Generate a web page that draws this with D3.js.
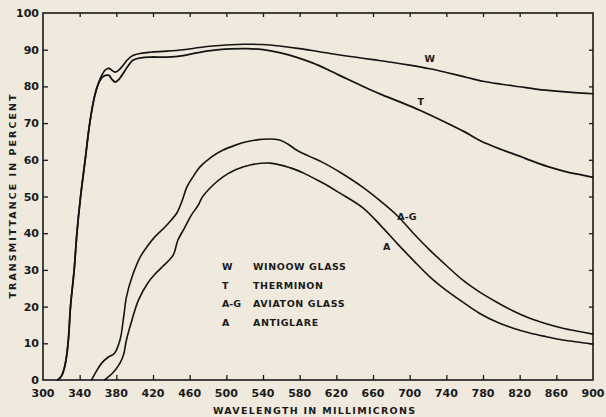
<!DOCTYPE html>
<html>
<head>
<meta charset="utf-8">
<script src="https://cdn.jsdelivr.net/npm/d3@7"></script>
<style>
  body { margin: 0; background: #efeadd; }
  svg { display: block; }
  .tick-label { font-family: "DejaVu Sans", sans-serif; font-weight: bold; font-size: 11px; fill: #1a1a1a; }
  .axis-title { font-family: "DejaVu Sans", sans-serif; font-weight: bold; font-size: 9.5px; fill: #1a1a1a; }
  .note { font-family: "DejaVu Sans", sans-serif; font-weight: bold; font-size: 9.5px; fill: #1a1a1a; }
  .curve { fill: none; stroke: #141414; stroke-linejoin: round; stroke-linecap: round; }
</style>
</head>
<body>
<svg width="606" height="417"></svg>
<script>
// wavelength (millimicrons), transmittance (%)
const windowGlass = [
  [316, 0], [320, 1], [323, 3], [326, 7], [328, 12], [330, 20], [334, 30], [337, 40],
  [341, 50], [346, 60], [351, 70], [356, 77], [360, 80.5], [364, 83], [368, 84.5],
  [372, 84.9], [375, 84.4], [378.5, 83.9], [382, 84.3], [387, 85.6], [392, 87.2],
  [398, 88.4], [407, 89], [417, 89.3], [435, 89.6], [453, 90], [471, 90.6], [485, 91],
  [500, 91.3], [520, 91.5], [540, 91.4], [558, 91], [580, 90.3], [600, 89.5],
  [620, 88.7], [640, 88], [660, 87.3], [680, 86.6], [700, 85.8], [722, 84.8],
  [740, 83.8], [760, 82.6], [780, 81.4], [800, 80.6], [820, 79.9], [840, 79.2],
  [860, 78.7], [880, 78.3], [900, 78]
];
const therminon = [
  [316, 0], [320, 1], [323, 3], [326, 7], [328, 12], [330, 20], [334, 30], [337, 40],
  [341, 50], [346, 60], [351, 70], [356, 77], [360, 80.5], [364, 82.3], [368, 83],
  [372, 83], [375, 82], [378.5, 81.2], [382, 81.7], [386, 83], [392, 85.3],
  [398, 87.1], [407, 87.8], [417, 88], [435, 88], [453, 88.4], [471, 89.3],
  [485, 89.8], [504, 90.2], [522, 90.3], [540, 90], [558, 89.2], [576, 88],
  [594, 86.4], [612, 84.4], [632, 82], [650, 79.9], [668, 77.9], [690, 75.7],
  [711, 73.5], [740, 70.1], [760, 67.6], [777, 65.2], [800, 62.8], [820, 61],
  [831, 59.9], [850, 58.2], [870, 56.8], [885, 56], [900, 55.2]
];
const aviatonGlass = [
  [353, 0], [358, 2.3], [364, 4.6], [371, 6.2], [378, 7.3], [384, 10.9], [388, 17.2],
  [391, 22.6], [397, 28], [406, 33.5], [414, 36.5], [422, 39], [432, 41.4],
  [440, 43.6], [446, 45.5], [452, 49], [457, 52.6], [464, 55.5], [471, 58],
  [484, 60.8], [496, 62.6], [510, 64], [522, 64.9], [540, 65.6], [558, 65.4],
  [567, 64.3], [577, 62.6], [590, 61], [605, 59.3], [624, 56.6], [649, 52.5],
  [668, 48.8], [686, 44.9], [704, 40], [722, 35.4], [740, 31.2], [758, 27.2],
  [776, 24], [795, 21.2], [813, 18.8], [831, 16.8], [849, 15.3], [867, 14.1],
  [885, 13.2], [900, 12.5]
];
const antiglare = [
  [367, 0], [371, 0.8], [376, 1.9], [384, 4.6], [388, 7], [391, 10.9], [397, 16.3],
  [404, 21.7], [414, 26.3], [422, 28.8], [430, 30.8], [442, 34], [447, 38],
  [455, 41.7], [462, 45], [469, 47.5], [474, 49.9], [485, 53], [496, 55.3],
  [510, 57.3], [526, 58.6], [548, 59.1], [570, 57.8], [585, 56.3], [599, 54.5],
  [613, 52.6], [624, 50.9], [649, 46.9], [668, 42.2], [686, 37.3], [704, 32.6],
  [722, 28.1], [740, 24.4], [758, 21.2], [776, 18.2], [795, 15.8], [813, 14.1],
  [831, 12.8], [849, 11.8], [867, 10.9], [885, 10.3], [900, 9.8]
];

const xTicks = d3.range(300, 901, 40);
const yTicks = d3.range(0, 101, 10);
const legendCodes = ["W", "T", "A-G", "A"];
const legendNames = ["WINOOW GLASS", "THERMINON", "AVIATON GLASS", "ANTIGLARE"];

const svg = d3.select("svg");
const plotLeft = 43, plotRight = 593, plotTop = 13, plotBottom = 380;

const x = d3.scaleLinear().domain([300, 900]).range([plotLeft, plotRight]);
const y = d3.scaleLinear().domain([0, 100]).range([plotBottom, plotTop]);

// Frame
svg.append("rect")
  .attr("x", plotLeft).attr("y", plotTop)
  .attr("width", plotRight - plotLeft).attr("height", plotBottom - plotTop)
  .attr("fill", "none").attr("stroke", "#1a1a1a").attr("stroke-width", 1.6);

const inner = (t, lo, hi) => t > lo && t < hi;
const styleTicks = (g) => {
  g.select(".domain").remove();
  g.selectAll("line").attr("stroke", "#1a1a1a").attr("stroke-width", 1.3);
};

// Bottom axis (ticks point inward)
svg.append("g")
  .attr("transform", "translate(0," + plotBottom + ")")
  .call(d3.axisBottom(x).tickValues(xTicks.filter((t) => inner(t, 300, 900)))
    .tickSizeInner(-5).tickSizeOuter(0).tickFormat(""))
  .call(styleTicks);

// Top axis
svg.append("g")
  .attr("transform", "translate(0," + plotTop + ")")
  .call(d3.axisTop(x).tickValues(xTicks.filter((t) => inner(t, 300, 900)))
    .tickSizeInner(-4).tickSizeOuter(0).tickFormat(""))
  .call(styleTicks);

// Left axis
svg.append("g")
  .attr("transform", "translate(" + plotLeft + ",0)")
  .call(d3.axisLeft(y).tickValues(yTicks.filter((t) => inner(t, 0, 100)))
    .tickSizeInner(-5).tickSizeOuter(0).tickFormat(""))
  .call(styleTicks);

// Right axis
svg.append("g")
  .attr("transform", "translate(" + plotRight + ",0)")
  .call(d3.axisRight(y).tickValues(yTicks.filter((t) => inner(t, 0, 100)))
    .tickSizeInner(-4).tickSizeOuter(0).tickFormat(""))
  .call(styleTicks);

// Tick labels
svg.append("g").selectAll("text")
  .data(xTicks).enter().append("text")
  .attr("class", "tick-label")
  .attr("x", (d) => x(d)).attr("y", plotBottom + 17)
  .attr("text-anchor", "middle")
  .text((d) => d);

svg.append("g").selectAll("text")
  .data(yTicks).enter().append("text")
  .attr("class", "tick-label")
  .attr("x", plotLeft - 4).attr("y", (d) => y(d) + 4)
  .attr("text-anchor", "end")
  .text((d) => d);

// Axis titles
svg.append("text")
  .attr("class", "axis-title")
  .attr("x", (plotLeft + plotRight) / 2 - 4).attr("y", 414)
  .attr("text-anchor", "middle")
  .attr("textLength", 202).attr("lengthAdjust", "spacing")
  .text("WAVELENGTH IN MILLIMICRONS");

svg.append("text")
  .attr("class", "axis-title")
  .attr("transform", "translate(16," + (plotTop + plotBottom) / 2 + ")rotate(-90)")
  .attr("text-anchor", "middle")
  .attr("textLength", 204).attr("lengthAdjust", "spacing")
  .text("TRANSMITTANCE IN PERCENT");

// Curves
const line = d3.line()
  .x((d) => x(d[0]))
  .y((d) => y(d[1]))
  .curve(d3.curveCatmullRom.alpha(0.5));

const series = [
  { data: windowGlass, width: 1.6 },
  { data: therminon, width: 1.8 },
  { data: aviatonGlass, width: 1.6 },
  { data: antiglare, width: 1.6 }
];
svg.append("g").selectAll("path")
  .data(series).enter().append("path")
  .attr("class", "curve")
  .attr("stroke-width", (d) => d.width)
  .attr("d", (d) => line(d.data));

// Curve labels
const curveLabels = [
  { text: "W", wl: 722, v: 86.6 },
  { text: "T", wl: 712, v: 74.8 },
  { text: "A-G", wl: 697, v: 43.7 },
  { text: "A", wl: 675, v: 35.5 }
];
svg.append("g").selectAll("text")
  .data(curveLabels).enter().append("text")
  .attr("class", "note")
  .attr("x", (d) => x(d.wl)).attr("y", (d) => y(d.v))
  .attr("text-anchor", "middle")
  .text((d) => d.text);

// Legend
const legend = svg.append("g").attr("transform", "translate(222,270)");
legend.selectAll("text.code")
  .data(legendCodes).enter().append("text")
  .attr("class", "note code")
  .attr("x", 0).attr("y", (d, i) => i * 18.5)
  .text((d) => d);
legend.selectAll("text.name")
  .data(legendNames).enter().append("text")
  .attr("class", "note name")
  .attr("x", 31).attr("y", (d, i) => i * 18.5)
  .attr("letter-spacing", 0.6)
  .text((d) => d);
</script>
</body>
</html>
